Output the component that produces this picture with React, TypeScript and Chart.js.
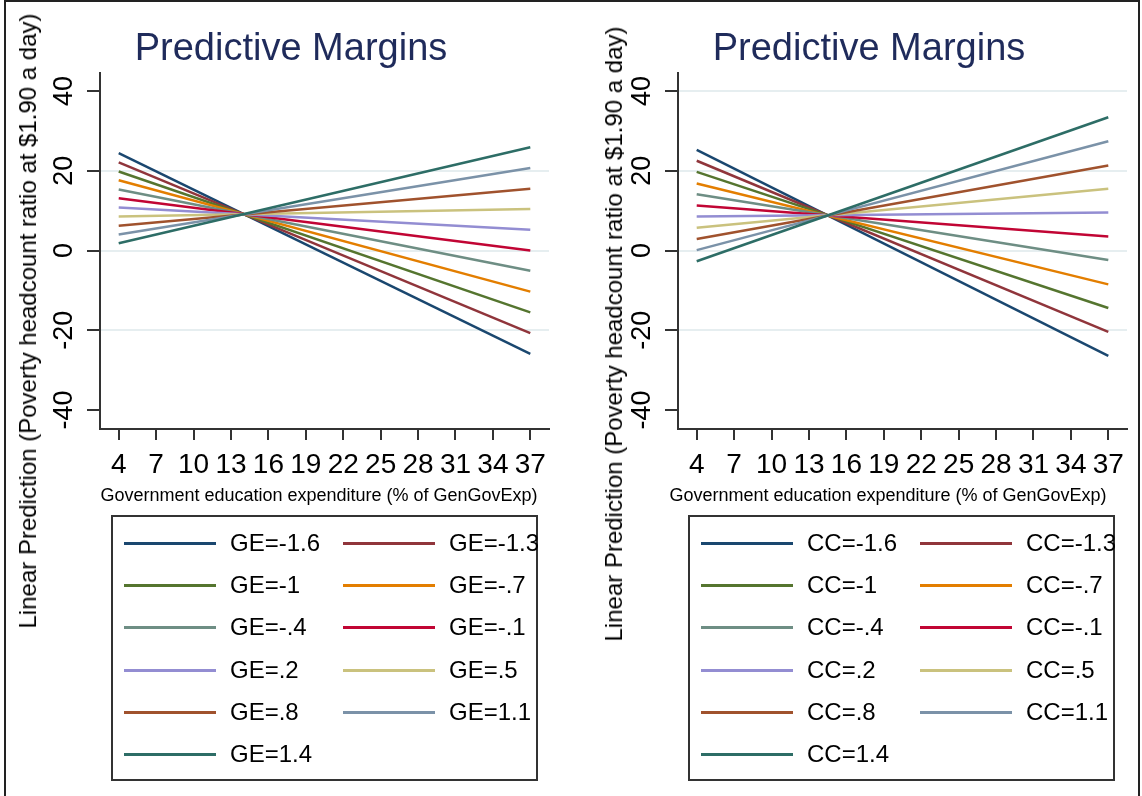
import React, { useEffect, useRef } from "react";
import { Chart, registerables } from "chart.js";
Chart.register(...registerables);

// ---------- data ----------
const xPoints = [4, 37];
const xTickValues = [4, 7, 10, 13, 16, 19, 22, 25, 28, 31, 34, 37];
const yTickValues = [-40, -20, 0, 20, 40];
const levels = ["-1.6", "-1.3", "-1", "-.7", "-.4", "-.1", ".2", ".5", ".8", "1.1", "1.4"];

// Left panel (GE): predictions at x=4 and x=37
const geAt4 = [24.4, 22.1, 19.8, 17.6, 15.3, 13.1, 10.8, 8.5, 6.2, 4.0, 1.8];
const geAt37 = [-25.9, -20.7, -15.5, -10.3, -5.1, 0.0, 5.2, 10.4, 15.5, 20.7, 25.9];

// Right panel (CC): predictions at x=4 and x=37
const ccAt4 = [25.2, 22.5, 19.7, 16.8, 14.1, 11.3, 8.5, 5.7, 2.9, 0.1, -2.7];
const ccAt37 = [-26.4, -20.4, -14.4, -8.5, -2.4, 3.5, 9.5, 15.5, 21.3, 27.4, 33.4];

const colors = [
  "#1a476f", "#90353b", "#55752f", "#e37e00", "#6e8e84", "#c10534",
  "#938dd2", "#cac27e", "#a0522d", "#7b92a8", "#2d6d66",
];

const FONT = '"Liberation Sans", Arial, Helvetica, sans-serif';
const PANEL_H = 520;

const rotatedYLabels = {
  id: "rotatedYLabels",
  afterDraw(chart: any) {
    const s = chart.scales.y;
    const ctx = chart.ctx;
    ctx.save();
    ctx.font = `27px ${FONT}`;
    ctx.fillStyle = "#000";
    ctx.textAlign = "center";
    ctx.textBaseline = "middle";
    for (const t of s.ticks) {
      const y = s.getPixelForValue(t.value);
      ctx.save();
      ctx.translate(s.right - 35, y);
      ctx.rotate(-Math.PI / 2);
      ctx.fillText(String(t.value), 0, 0);
      ctx.restore();
    }
    ctx.restore();
  },
};

function Panel(props: {
  left: number;
  width: number;
  padRight: number;
  at4: number[];
  at37: number[];
  gridAt: number[];
}) {
  const ref = useRef<HTMLCanvasElement>(null);
  useEffect(() => {
    const canvas = ref.current!;
    const datasets = levels.map((lv, i) => ({
      label: lv,
      data: xPoints.map((x, j) => ({ x, y: j === 0 ? props.at4[i] : props.at37[i] })),
      borderColor: colors[i],
      backgroundColor: colors[i],
      borderWidth: 2.5,
      pointRadius: 0,
      tension: 0,
      order: levels.length - i,
    }));
    const chart = new Chart(canvas, {
      type: "line",
      data: { datasets },
      plugins: [rotatedYLabels],
      options: {
        animation: false,
        responsive: false,
        maintainAspectRatio: false,
        layout: { padding: { left: 0, top: 73, right: props.padRight, bottom: 0 } },
        plugins: { legend: { display: false }, tooltip: { enabled: false }, title: { display: false } },
        scales: {
          x: {
            type: "linear",
            min: 2.5,
            max: 38.5,
            afterBuildTicks: (s: any) => {
              s.ticks = xTickValues.map((v) => ({ value: v }));
            },
            afterFit: (s: any) => {
              s.height = PANEL_H - 429;
            },
            ticks: {
              autoSkip: false,
              maxRotation: 0,
              minRotation: 0,
              color: "#000",
              padding: 8,
              font: { family: FONT, size: 28 },
            },
            grid: {
              drawOnChartArea: false,
              drawTicks: true,
              tickLength: 11,
              color: "#333",
              lineWidth: 2,
            },
            border: { display: true, color: "#333", width: 2 },
          },
          y: {
            type: "linear",
            min: -44.75,
            max: 44.5,
            afterBuildTicks: (s: any) => {
              s.ticks = yTickValues.map((v) => ({ value: v }));
            },
            afterFit: (s: any) => {
              s.width = 100;
            },
            ticks: { display: false },
            grid: {
              drawOnChartArea: true,
              drawTicks: true,
              tickLength: 13,
              tickColor: "#333",
              tickWidth: 2,
              lineWidth: 2,
              color: (c: any) =>
                c.tick && props.gridAt.includes(c.tick.value) ? "#e6eef0" : "rgba(0,0,0,0)",
            },
            border: { display: true, color: "#333", width: 2 },
          },
        },
      } as any,
    });
    return () => chart.destroy();
  }, []);
  return (
    <canvas
      ref={ref}
      width={props.width}
      height={PANEL_H}
      style={{ position: "absolute", left: props.left, top: 0, width: props.width, height: PANEL_H }}
    />
  );
}

function Legend(props: { left: number; prefix: string }) {
  const rows = [28, 70, 112, 155, 197, 239];
  return (
    <div
      style={{
        position: "absolute",
        left: props.left,
        top: 515,
        width: 427,
        height: 266,
        border: "2px solid #333",
        boxSizing: "border-box",
        background: "#fff",
      }}
    >
      {levels.map((lv, i) => {
        const col = i % 2;
        const row = Math.floor(i / 2);
        const y = rows[row] - 2;
        const lineX = col === 0 ? 11 : 230;
        const textX = col === 0 ? 117 : 336;
        return (
          <React.Fragment key={lv}>
            <div
              style={{
                position: "absolute",
                left: lineX,
                top: y - 1.5,
                width: 92,
                height: 3,
                background: colors[i],
              }}
            />
            <div
              style={{
                position: "absolute",
                left: textX,
                top: y - 12,
                height: 24,
                lineHeight: "24px",
                fontFamily: FONT,
                fontSize: 24,
                color: "#000",
                whiteSpace: "nowrap",
              }}
            >
              {props.prefix}={lv}
            </div>
          </React.Fragment>
        );
      })}
    </div>
  );
}

const textBase: React.CSSProperties = {
  position: "absolute",
  fontFamily: FONT,
  whiteSpace: "nowrap",
};

export default function App() {
  const yTitle = "Linear Prediction (Poverty headcount ratio at $1.90 a day)";
  const xTitle = "Government education expenditure (% of GenGovExp)";
  return (
    <div
      style={{
        position: "absolute",
        left: 0,
        top: 0,
        width: 1142,
        height: 796,
        overflow: "hidden",
        background: "#fff",
      }}
    >
      <div
        style={{
          position: "absolute",
          left: 4,
          top: 0,
          width: 1136,
          height: 810,
          border: "2px solid #222",
          boxSizing: "border-box",
        }}
      />
      <Panel left={0} width={570} padRight={21} at4={geAt4} at37={geAt37} gridAt={[-20, 0, 20]} />
      <Panel left={578} width={564} padRight={15} at4={ccAt4} at37={ccAt37} gridAt={[-20, 0, 20, 40]} />

      {/* titles */}
      <div style={{ ...textBase, left: 291, top: 28, transform: "translateX(-50%)", fontSize: 38, lineHeight: "38px", color: "#1f2b5b" }}>
        Predictive Margins
      </div>
      <div style={{ ...textBase, left: 869, top: 28, transform: "translateX(-50%)", fontSize: 38, lineHeight: "38px", color: "#1f2b5b" }}>
        Predictive Margins
      </div>

      {/* y titles */}
      <div style={{ ...textBase, left: 28, top: 321, transform: "translate(-50%, -50%) rotate(-90deg)", fontSize: 24, lineHeight: "24px", color: "#000" }}>
        {yTitle}
      </div>
      <div style={{ ...textBase, left: 614, top: 334, transform: "translate(-50%, -50%) rotate(-90deg)", fontSize: 24, lineHeight: "24px", color: "#000" }}>
        {yTitle}
      </div>

      {/* x titles */}
      <div style={{ ...textBase, left: 319, top: 486, transform: "translateX(-50%)", fontSize: 18, lineHeight: "18px", color: "#000" }}>
        {xTitle}
      </div>
      <div style={{ ...textBase, left: 888, top: 486, transform: "translateX(-50%)", fontSize: 18, lineHeight: "18px", color: "#000" }}>
        {xTitle}
      </div>

      <Legend left={111} prefix="GE" />
      <Legend left={688} prefix="CC" />
    </div>
  );
}
